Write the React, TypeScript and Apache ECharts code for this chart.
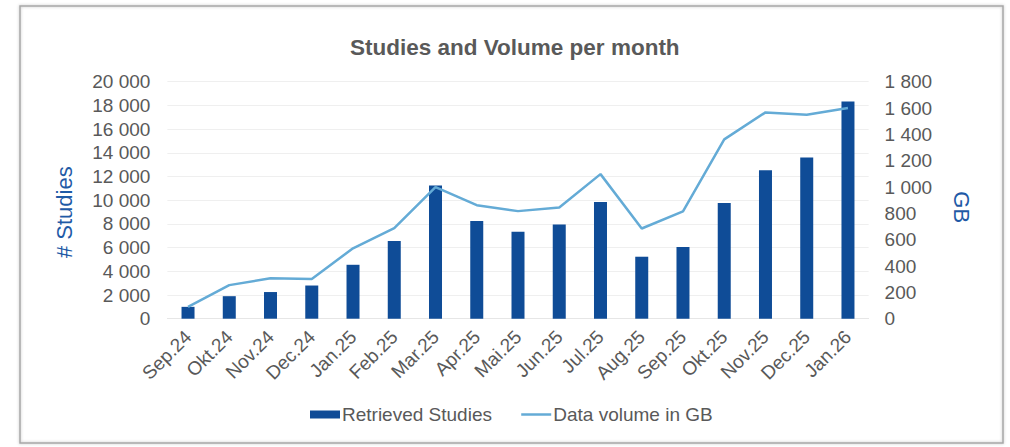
import React, { useEffect, useRef } from "react";
import * as echarts from "echarts";

const categories = [
  "Sep.24", "Okt.24", "Nov.24", "Dec.24", "Jan.25", "Feb.25", "Mar.25", "Apr.25",
  "Mai.25", "Jun.25", "Jul.25", "Aug.25", "Sep.25", "Okt.25", "Nov.25", "Dec.25", "Jan.26",
];
const retrievedStudies = [
  1000, 1900, 2250, 2800, 4550, 6550, 11250, 8250, 7330, 7950, 9850, 5230, 6050, 9770, 12520, 13600, 18330,
];
const dataVolumeGB = [
  90, 255, 307, 302, 535, 688, 1000, 862, 817, 845, 1098, 685, 815, 1362, 1567, 1549, 1600,
];

const fmt = (v: number) => {
  const s = String(Math.round(v));
  return s.replace(/\B(?=(\d{3})+(?!\d))/g, " ");
};

const FONT = "'Liberation Sans', Arial, sans-serif";
const GREY = "#595959";
const BAR = "#0f4c97";
const LINE = "#64abd6";

export default function App() {
  const ref = useRef<HTMLDivElement>(null);
  useEffect(() => {
    if (!ref.current) return;
    const chart = echarts.init(ref.current, undefined, { renderer: "svg" });
    chart.setOption({
      animation: false,
      backgroundColor: "#ffffff",
      textStyle: { fontFamily: FONT },
      title: {
        text: "Studies and Volume per month",
        left: 345,
        top: 31,
        textStyle: { fontFamily: FONT, fontSize: 22.5, fontWeight: "bold", color: GREY },
      },
      graphic: [
        {
          type: "rect",
          shape: { x: 20, y: 6, width: 983, height: 437 },
          style: {
            fill: "none",
            stroke: "#a6a6a6",
            lineWidth: 1.5,
            shadowBlur: 3,
            shadowColor: "rgba(0,0,0,0.25)",
          },
          silent: true,
        },
      ],
      legend: {
        left: 310,
        top: 405,
        padding: 0,
        itemWidth: 30,
        itemHeight: 8,
        itemGap: 28,
        textStyle: { fontFamily: FONT, fontSize: 19, color: GREY, padding: [0, 0, 0, -3] },
        data: [
          { name: "Retrieved Studies", icon: "rect" },
          {
            name: "Data volume in GB",
            itemStyle: { opacity: 0 },
            lineStyle: { color: LINE, width: 2.5, opacity: 1 },
          },
        ],
      },
      grid: { left: 167.4, right: 141.4, top: 81.7, bottom: 128.3, containLabel: false },
      xAxis: {
        type: "category",
        data: categories,
        axisTick: { show: false },
        axisLine: { show: true, lineStyle: { color: "#e6e6e6" } },
        axisLabel: {
          rotate: 45,
          interval: 0,
          margin: 15,
          fontFamily: FONT,
          fontSize: 19,
          color: GREY,
        },
      },
      yAxis: [
        {
          type: "value",
          min: 0,
          max: 20000,
          interval: 2000,
          name: "# Studies",
          nameLocation: "middle",
          nameGap: 92,
          nameRotate: 90,
          nameTextStyle: { fontFamily: FONT, fontSize: 22, color: "#1f5aa6", padding: [0, 24, 0, 0] },
          axisLine: { show: false },
          axisTick: { show: false },
          splitLine: { show: true, lineStyle: { color: "#efefef", width: 1 } },
          axisLabel: { margin: 17, fontFamily: FONT, fontSize: 19, color: GREY, formatter: fmt },
        },
        {
          type: "value",
          min: 0,
          max: 1800,
          interval: 200,
          name: "GB",
          nameLocation: "middle",
          nameGap: 82,
          nameRotate: -90,
          nameTextStyle: { fontFamily: FONT, fontSize: 22, color: "#1f5aa6", padding: [0, 0, 0, 14] },
          axisLine: { show: false },
          axisTick: { show: false },
          splitLine: { show: false },
          axisLabel: { margin: 16, fontFamily: FONT, fontSize: 19, color: GREY, formatter: fmt },
        },
      ],
      series: [
        {
          name: "Retrieved Studies",
          type: "bar",
          yAxisIndex: 0,
          data: retrievedStudies,
          barWidth: 13,
          itemStyle: { color: BAR },
        },
        {
          name: "Data volume in GB",
          type: "line",
          yAxisIndex: 1,
          data: dataVolumeGB,
          symbol: "none",
          lineStyle: { color: LINE, width: 2.5 },
          itemStyle: { color: LINE },
        },
      ],
    });
    return () => chart.dispose();
  }, []);
  return (
    <div
      ref={ref}
      style={{ position: "fixed", left: 0, top: 0, width: 1010, height: 447 }}
    />
  );
}
